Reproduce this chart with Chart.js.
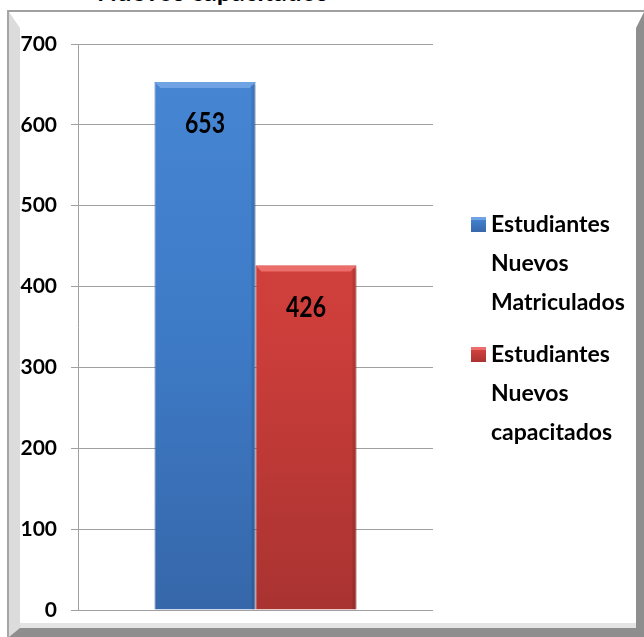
<!DOCTYPE html>
<html>
<head>
<meta charset="utf-8">
<script src="https://cdn.jsdelivr.net/npm/chart.js@4.4.0/dist/chart.umd.min.js"></script>
<style>
html, body { margin: 0; padding: 0; width: 644px; height: 637px; overflow: hidden; background: #fff; }
#frame { position: absolute; left: 7px; top: 10px; width: 637px; height: 627px; box-sizing: border-box;
  border-top: 2px solid #a0a0a0; border-left: 2px solid #a6a6a6; }
#bevel { position: absolute; left: 0; top: 0; right: 0; bottom: 0; box-sizing: border-box;
  border-left: 11px solid #dcdcdc; border-top: 16px solid #fff; border-right: 8px solid #8e8e8e; border-bottom: 9px solid #8e8e8e; }
#inner { position: absolute; left: 0; right: 0; bottom: 0; height: 5px; background: #e4e4e4; }
#title { position: absolute; left: 97px; top: -22px; font: bold 26px Lato, sans-serif;
  line-height: 26px; color: #000; white-space: nowrap; }
#chartBox { position: absolute; left: 0; top: 0; width: 644px; height: 637px; }
</style>
</head>
<body>
<div id="frame"><div id="bevel"><div id="inner"></div></div></div>
<div id="title">Nuevos capacitados</div>
<div id="chartBox"><canvas id="graphCanvas" width="644" height="637"></canvas></div>
<script>
var categories = [''];
var seriesLabels = ['Estudiantes Nuevos Matriculados', 'Estudiantes Nuevos capacitados'];
var matriculados = [653];
var capacitados = [426];
var yTicks = [0, 100, 200, 300, 400, 500, 600, 700];

// vertical gradient over the plot area
function barFill(stops) {
    return function(ctx) {
        var area = ctx.chart.chartArea;
        if (!area) return stops[1];
        var g = ctx.chart.ctx.createLinearGradient(0, area.top, 0, area.bottom);
        g.addColorStop(0, stops[0]);
        g.addColorStop(0.5, stops[1]);
        g.addColorStop(1, stops[2]);
        return g;
    };
}

var blueStops = ['#4787d5', '#3e7bc7', '#3667aa'];
var redStops = ['#da4542', '#cd3e3b', '#a93331'];
var bevelColors = ['#6fa3e3', '#ec6e6a'];

// text drawn a little taller than wide, like the original
function tallText(c, txt, x, y, sy) {
    c.save();
    c.translate(x, y);
    c.scale(1, sy);
    c.fillText(txt, 0, 0);
    c.restore();
}

var barDeco = {
    id: 'barDeco',
    afterDatasetsDraw: function(chart) {
        var c = chart.ctx;
        c.save();
        chart.data.datasets.forEach(function(ds, i) {
            chart.getDatasetMeta(i).data.forEach(function(el, j) {
                var p = el.getProps(['x', 'y', 'width', 'base'], true);
                var l = p.x - p.width / 2, r = p.x + p.width / 2;
                c.fillStyle = bevelColors[i];
                c.beginPath();
                c.moveTo(l, p.y);
                c.lineTo(r, p.y);
                c.lineTo(r - 6, p.y + 6);
                c.lineTo(l + 6, p.y + 6);
                c.closePath();
                c.fill();
                c.fillStyle = 'rgba(0,0,0,0.10)';
                c.fillRect(r - 4, p.y + 3, 4, p.base - p.y - 3);
                c.fillStyle = '#000';
                c.font = 'bold 23px Lato, sans-serif';
                c.textAlign = 'center';
                c.textBaseline = 'alphabetic';
                tallText(c, String(ds.data[j]), p.x, p.y + 51, 1.25);
            });
        });
        c.restore();
    }
};

var sideLegend = {
    id: 'sideLegend',
    afterDraw: function(chart) {
        var c = chart.ctx;
        c.save();
        c.font = 'bold 23px Lato, sans-serif';
        c.textAlign = 'left';
        c.textBaseline = 'alphabetic';
        chart.data.datasets.forEach(function(ds, i) {
            var base = 232 + i * 130;
            var stops = i === 0 ? blueStops : redStops;
            var g = c.createLinearGradient(0, base - 15, 0, base);
            g.addColorStop(0, stops[0]);
            g.addColorStop(1, stops[2]);
            c.fillStyle = g;
            c.fillRect(471, base - 15, 15, 15);
            c.fillStyle = bevelColors[i];
            c.fillRect(471, base - 15, 15, 3);
            c.fillStyle = '#000';
            ds.label.split(' ').forEach(function(w, k) {
                c.fillText(w, 491, base + k * 39);
            });
        });
        c.restore();
    }
};

var chartdata = {
    labels: categories,
    datasets: [{
        label: seriesLabels[0],
        backgroundColor: barFill(blueStops),
        borderColor: '#34609f',
        borderWidth: 1,
        data: matriculados
    }, {
        label: seriesLabels[1],
        backgroundColor: barFill(redStops),
        borderColor: '#9e2f2d',
        borderWidth: 1,
        data: capacitados
    }]
};

var graphTarget = document.getElementById('graphCanvas');

var barGraph = new Chart(graphTarget, {
    type: 'bar',
    data: chartdata,
    options: {
        responsive: false,
        animation: false,
        layout: { padding: { top: 44, right: 211, bottom: 27, left: 0 } },
        datasets: { bar: { categoryPercentage: 0.569, barPercentage: 1.0 } },
        plugins: {
            legend: { display: false },
            tooltip: { enabled: false }
        },
        scales: {
            x: { display: false },
            y: {
                min: 0,
                max: 700,
                afterFit: function(scale) { scale.width = 78; },
                afterBuildTicks: function(scale) {
                    scale.ticks = yTicks.map(function(v) { return { value: v }; });
                },
                ticks: {
                    color: '#000',
                    padding: 14,
                    font: { family: 'Lato', size: 21, weight: 'bold' }
                },
                grid: { color: '#a0a0a0', lineWidth: 1, tickLength: 7 },
                border: { color: '#a0a0a0', width: 1 }
            }
        }
    },
    plugins: [barDeco, sideLegend]
});
</script>
</body>
</html>
